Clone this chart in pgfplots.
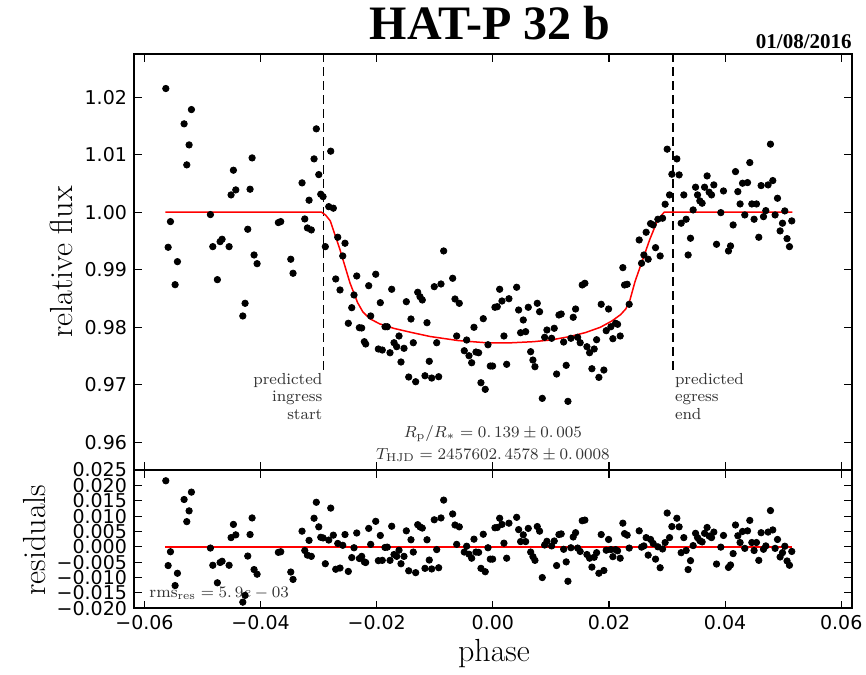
\documentclass[border=0pt]{standalone}
\usepackage{fontspec}
\usepackage{pgfplots}
\usepackage{pgfplotstable}
\pgfplotsset{compat=1.18}
\newfontfamily\dejavu{DejaVu Sans}
\newfontfamily\titlefont{Liberation Serif}

\pgfplotstableread{
x f r
-0.05632 1.02150 0.0215
-0.05592 0.99391 -0.0061
-0.05552 0.99837 -0.0016
-0.05472 0.98741 -0.0126
-0.05432 0.99141 -0.0086
-0.05317 1.01536 0.0154
-0.05271 1.00823 0.0082
-0.05231 1.01170 0.0117
-0.05191 1.01784 0.0178
-0.04864 0.99959 -0.0004
-0.04823 0.99402 -0.0060
-0.04744 0.98828 -0.0117
-0.04697 0.99489 -0.0051
-0.04663 0.99530 -0.0047
-0.04542 0.99402 -0.0060
-0.04508 1.00301 0.0030
-0.04468 1.00730 0.0073
-0.04427 1.00388 0.0039
-0.04306 0.98197 -0.0180
-0.04267 0.98417 -0.0158
-0.04221 0.99704 -0.0030
-0.04181 1.00400 0.0040
-0.04146 1.00944 0.0094
-0.04112 0.99257 -0.0074
-0.04060 0.99106 -0.0089
-0.03694 0.99820 -0.0018
-0.03653 0.99837 -0.0016
-0.03480 0.99183 -0.0082
-0.03441 0.98939 -0.0106
-0.03286 1.00510 0.0051
-0.03239 0.99883 -0.0012
-0.03194 0.99727 -0.0027
-0.03165 1.00209 0.0021
-0.03126 0.99692 -0.0031
-0.03079 1.00927 0.0093
-0.03040 1.01449 0.0145
-0.02998 1.00654 0.0065
-0.02964 1.00313 0.0031
-0.02924 1.00271 0.0029
-0.02885 0.99402 -0.0055
-0.02826 1.00097 0.0022
-0.02792 1.01061 0.0126
-0.02747 1.00070 0.0038
-0.02706 0.98840 -0.0073
-0.02671 0.99565 0.0011
-0.02632 0.98649 -0.0069
-0.02585 0.99240 0.0005
-0.02546 0.99461 0.0040
-0.02489 0.98070 -0.0080
-0.02430 0.98341 -0.0035
-0.02391 0.98562 -0.0003
-0.02344 0.98892 0.0045
-0.02299 0.97993 -0.0038
-0.02259 0.97988 -0.0031
-0.02213 0.97750 -0.0049
-0.02190 0.97710 -0.0051
-0.02138 0.98723 0.0060
-0.02104 0.98197 0.0008
-0.02017 0.98922 0.0083
-0.01972 0.97623 -0.0045
-0.01938 0.98428 0.0037
-0.01904 0.97605 -0.0044
-0.01857 0.98010 -0.0002
-0.01818 0.98010 -0.0001
-0.01771 0.97558 -0.0044
-0.01742 0.98661 0.0067
-0.01702 0.97732 -0.0025
-0.01656 0.97663 -0.0031
-0.01616 0.97849 -0.0011
-0.01582 0.97397 -0.0055
-0.01530 0.97635 -0.0031
-0.01490 0.98445 0.0052
-0.01449 0.97136 -0.0078
-0.01410 0.98144 0.0023
-0.01370 0.97732 -0.0017
-0.01329 0.97054 -0.0084
-0.01294 0.98609 0.0072
-0.01255 0.98532 0.0065
-0.01215 0.98475 0.0061
-0.01169 0.97158 -0.0070
-0.01134 0.98080 0.0023
-0.01095 0.97409 -0.0043
-0.01053 0.97118 -0.0072
-0.01009 0.98706 0.0088
-0.00967 0.97732 -0.0009
-0.00933 0.97141 -0.0068
-0.00893 0.98753 0.0094
-0.00847 0.99327 0.0152
-0.00692 0.98852 0.0107
-0.00652 0.98492 0.0071
-0.00623 0.97849 0.0008
-0.00578 0.98417 0.0065
-0.00492 0.97593 -0.0017
-0.00451 0.97779 0.0002
-0.00411 0.97506 -0.0024
-0.00365 0.97384 -0.0037
-0.00325 0.98000 0.0025
-0.00291 0.97570 -0.0017
-0.00245 0.97558 -0.0018
-0.00205 0.97037 -0.0070
-0.00165 0.98150 0.0041
-0.00131 0.96922 -0.0081
-0.00084 0.97697 -0.0003
-0.00044 0.97327 -0.0040
-0.00004 0.97327 -0.0040
0.00036 0.98348 0.0062
0.00076 0.98358 0.0063
0.00117 0.98661 0.0093
0.00157 0.98457 0.0073
0.00191 0.97849 0.0012
0.00238 0.97357 -0.0037
0.00277 0.98497 0.0077
0.00410 0.98696 0.0096
0.00444 0.98301 0.0056
0.00478 0.97906 0.0017
0.00524 0.98127 0.0039
0.00565 0.97924 0.0017
0.00610 0.98348 0.0060
0.00651 0.97576 -0.0017
0.00690 0.97431 -0.0032
0.00725 0.97315 -0.0044
0.00765 0.98417 0.0066
0.00805 0.98271 0.0051
0.00851 0.96765 -0.0100
0.00892 0.97826 0.0006
0.00931 0.97953 0.0018
0.01012 0.97809 0.0003
0.01057 0.97983 0.0019
0.01098 0.97188 -0.0061
0.01138 0.98214 0.0040
0.01177 0.98231 0.0042
0.01219 0.97744 -0.0008
0.01263 0.97339 -0.0049
0.01293 0.96713 -0.0112
0.01344 0.97809 -0.0003
0.01384 0.98174 0.0032
0.01425 0.98318 0.0046
0.01460 0.97826 -0.0004
0.01504 0.97732 -0.0015
0.01539 0.98736 0.0085
0.01585 0.98765 0.0087
0.01620 0.97663 -0.0025
0.01666 0.97558 -0.0037
0.01706 0.97280 -0.0066
0.01745 0.97623 -0.0034
0.01787 0.97784 -0.0019
0.01826 0.97130 -0.0086
0.01866 0.98400 0.0040
0.01912 0.97257 -0.0077
0.01952 0.97941 -0.0011
0.01993 0.98318 0.0024
0.02033 0.98010 -0.0009
0.02067 0.97802 -0.0032
0.02114 0.98070 -0.0009
0.02148 0.98052 -0.0013
0.02193 0.97849 -0.0037
0.02239 0.99037 0.0077
0.02268 0.98736 0.0043
0.02313 0.98748 0.0038
0.02348 0.98400 -0.0004
0.02520 0.99518 0.0052
0.02561 0.99113 -0.0001
0.02601 0.99257 0.0003
0.02640 0.99652 0.0030
0.02675 0.99183 -0.0027
0.02716 0.99802 0.0024
0.02761 0.99779 0.0011
0.02802 0.99384 -0.0040
0.02842 0.99878 0.0000
0.02881 0.99240 -0.0068
0.02923 0.99896 -0.0007
0.02967 1.00139 0.0014
0.03002 1.01096 0.0110
0.03043 1.00301 0.0030
0.03083 1.00661 0.0066
0.03169 1.00927 0.0093
0.03208 1.00649 0.0065
0.03243 0.99809 -0.0019
0.03289 1.00301 0.0030
0.03329 0.99878 -0.0012
0.03363 0.99257 -0.0074
0.03404 0.99548 -0.0045
0.03449 1.00040 0.0004
0.03491 1.00435 0.0044
0.03525 1.00301 0.0030
0.03565 1.00197 0.0020
0.03604 1.00157 0.0016
0.03646 1.00435 0.0044
0.03690 1.00631 0.0063
0.03725 1.00348 0.0035
0.03766 1.00301 0.0030
0.03806 1.00475 0.0048
0.03852 0.99443 -0.0056
0.03926 0.99993 -0.0001
0.03972 1.00370 0.0037
0.04058 0.99327 -0.0067
0.04093 0.99414 -0.0059
0.04138 0.99779 -0.0022
0.04179 1.00706 0.0071
0.04219 1.00358 0.0036
0.04258 1.00144 0.0014
0.04300 1.00504 0.0050
0.04339 0.99953 -0.0005
0.04386 1.00515 0.0052
0.04425 1.00863 0.0086
0.04460 1.00144 0.0014
0.04499 0.99878 -0.0012
0.04540 1.00144 0.0014
0.04580 0.99565 -0.0044
0.04620 1.00463 0.0046
0.04661 0.99923 -0.0008
0.04701 1.00028 0.0003
0.04740 1.00475 0.0048
0.04781 1.01183 0.0118
0.04821 1.00550 0.0055
0.04861 0.99953 -0.0005
0.04902 1.00243 0.0024
0.04947 0.99675 -0.0033
0.04988 0.99809 -0.0019
0.05028 1.00023 0.0002
0.05067 0.99541 -0.0046
0.05108 0.99402 -0.0060
0.05148 0.99849 -0.0015
}\datatable

\pgfplotstableread{
x m
-0.0564 1.0000
-0.0295 1.0000
-0.0288 0.9995
-0.0280 0.9985
-0.0263 0.9934
-0.0246 0.9877
-0.0233 0.9843
-0.0224 0.9827
-0.0212 0.9815
-0.0195 0.9806
-0.0170 0.9798
-0.0140 0.9791
-0.0108 0.9784
-0.0060 0.9777
-0.0010 0.9773
0.0030 0.9773
0.0070 0.9775
0.0100 0.9778
0.0133 0.9784
0.0160 0.9791
0.0185 0.9800
0.0205 0.9811
0.0220 0.9822
0.0229 0.9832
0.0236 0.9847
0.0245 0.9880
0.0270 0.9952
0.0284 0.9987
0.0295 1.0000
0.0516 1.0000
}\modeltable

\begin{document}
\begin{tikzpicture}
\path[use as bounding box] (-67pt,-32.85pt) rectangle (366pt,304.15pt);
\pgfplotsset{
  common/.style={
    scale only axis, width=358.85pt, xmin=-0.0618, xmax=0.0618,
    anchor=south west, clip=false,
    scaled ticks=false,
    tick align=inside, tick pos=both,
    xtick={-0.06,-0.04,-0.02,0,0.02,0.04,0.06},
    axis line style={line width=0.9pt, black},
    major tick length=3.8pt,
    tick style={black, line width=0.55pt},
    tick label style={font=\dejavu\fontsize{9.5}{11}\selectfont, black},
  }
}
\begin{axis}[common, at={(0pt,0pt)}, height=69.15pt, ymin=-0.020, ymax=0.025,
  xticklabels={−0.06,−0.04,−0.02,0.00,0.02,0.04,0.06},
  ytick={-0.02,-0.015,-0.01,-0.005,0,0.005,0.01,0.015,0.02,0.025},
  yticklabels={−0.020,−0.015,−0.010,−0.005,0.000,0.005,0.010,0.015,0.020,0.025}]
\addplot[red, line width=0.75pt] coordinates {(-0.0564,0) (0.0516,0)};
\addplot[only marks, mark=*, mark size=1.6pt, black] table[x=x,y=r]{\datatable};
\node[anchor=base west, inner sep=0, font=\fontsize{8.2}{10}\selectfont, text=black!80] at (axis cs:-0.0592,-0.0166) {$\mathrm{rms}_{\mathrm{res}} = 5.\,9e-03$};
\end{axis}
\begin{axis}[common, at={(0pt,69.15pt)}, height=208pt, ymin=0.9552, ymax=1.0275,
  xticklabels={},
  ytick={0.96,0.97,0.98,0.99,1.00,1.01,1.02},
  yticklabels={0.96,0.97,0.98,0.99,1.00,1.01,1.02}]
\addplot[black, line width=0.65pt, dash pattern=on 4.5pt off 2.5pt] coordinates {(-0.0292,0.9726) (-0.0292,1.0275)};
\addplot[black, line width=0.65pt, dash pattern=on 4.5pt off 2.5pt] coordinates {(0.0310,0.9726) (0.0310,1.0275)};
\addplot[red, line width=0.75pt] table[x=x,y=m]{\modeltable};
\addplot[only marks, mark=*, mark size=1.6pt, black] table[x=x,y=f]{\datatable};
\node[anchor=north east, inner sep=0, align=right, font=\fontsize{8}{8.75}\selectfont, text=black!80] at (axis cs:-0.0293,0.9721) {predicted\\ingress\\start};
\node[anchor=north west, inner sep=0, align=left, font=\fontsize{8}{8.75}\selectfont, text=black!80] at (axis cs:0.0313,0.9721) {predicted\\egress\\end};
\node[anchor=base, inner sep=0, font=\fontsize{8.2}{10}\selectfont, text=black!80] at (axis cs:0.0,0.9609) {$R_{\mathrm{p}}/R_{*} = 0.\,139 \pm 0.\,005$};
\node[anchor=base, inner sep=0, font=\fontsize{8.2}{10}\selectfont, text=black!80] at (axis cs:0.0,0.9571) {$T_{\mathrm{HJD}} = 2457602.\,4578 \pm 0.\,0008$};
\end{axis}
\node[rotate=90, anchor=center, font=\fontsize{16}{19}\selectfont] at (-36.5pt,173.15pt) {relative flux};
\node[rotate=90, anchor=center, font=\fontsize{16}{19}\selectfont] at (-49.5pt,34.15pt) {residuals};
\node[anchor=base, inner sep=0, font=\fontsize{16}{19}\selectfont] at (180pt,-26.35pt) {phase};
\node[anchor=base, inner sep=0, font=\titlefont\bfseries\fontsize{24}{28}\selectfont] at (178pt,284.15pt) {HAT-P 32 b};
\node[anchor=base east, inner sep=0, font=\titlefont\bfseries\fontsize{10.5}{13}\selectfont] at (359pt,279.9pt) {01/08/2016};
\end{tikzpicture}
\end{document}
